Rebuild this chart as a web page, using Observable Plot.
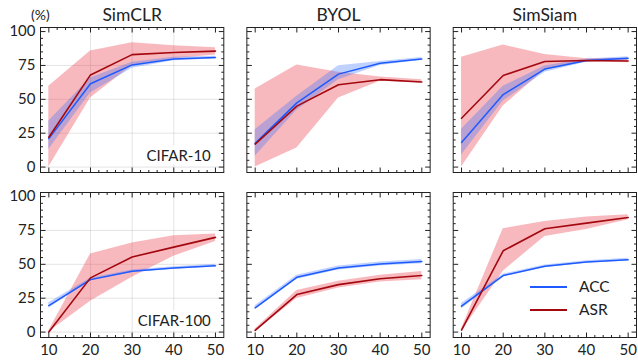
<!DOCTYPE html>
<html><head><meta charset="utf-8">
<script src="https://cdn.jsdelivr.net/npm/d3@7"></script>
<script src="https://cdn.jsdelivr.net/npm/@observablehq/plot@0.6"></script>
<style>
body{margin:0;background:#fff;}
#wrap{position:relative;width:638px;height:360px;font-family:Lato,sans-serif;color:#222;}
.ov{position:absolute;white-space:nowrap;line-height:1;}
.lg{position:absolute;height:0;border-top:2px solid;}
</style></head><body>
<div id="wrap"></div>
<script>
// ---- categories / ticks ----
const methods = ["SimCLR", "BYOL", "SimSiam"];
const datasets = ["CIFAR-10", "CIFAR-100"];
const xs = [10, 20, 30, 40, 50];
const xMajor = [10, 20, 30, 40, 50];
const xMinor = [12, 14, 16, 18, 22, 24, 26, 28, 32, 34, 36, 38, 42, 44, 46, 48];
const yMajor = [0, 25, 50, 75, 100];
const yMinor = [5, 10, 15, 20, 30, 35, 40, 45, 55, 60, 65, 70, 80, 85, 90, 95];
const xGrid = [20, 30, 40];
const yGrid = [0, 25, 50, 75];

// ---- SimCLR / CIFAR-10 ----
const simclrC10Acc   = [21, 61.5, 75.4, 79.8, 80.8];
const simclrC10AccLo = [13, 54.7, 73, 78.5, 79.8];
const simclrC10AccHi = [34, 65.7, 77.4, 81, 81.8];
const simclrC10Asr   = [22, 68, 83, 84.5, 85.6];
const simclrC10AsrLo = [0, 51, 75, 80, 82.7];
const simclrC10AsrHi = [59.6, 85.6, 91.7, 89.5, 88];
// ---- BYOL / CIFAR-10 ----
const byolC10Acc   = [17.5, 47.4, 68.6, 76.6, 79.8];
const byolC10AccLo = [8, 42, 64.5, 75, 78.8];
const byolC10AccHi = [27.5, 52.3, 74.7, 78, 80.8];
const byolC10Asr   = [17, 45, 60.8, 64.5, 62.8];
const byolC10AsrLo = [0, 14, 51, 63.3, 62];
const byolC10AsrHi = [57.7, 75.4, 70, 66.4, 64.5];
// ---- SimSiam / CIFAR-10 ----
const simsiamC10Acc   = [18.2, 53.5, 72.3, 78.6, 80.3];
const simsiamC10AccLo = [9, 48.7, 70, 77.3, 79];
const simsiamC10AccHi = [28, 59.6, 74.5, 79.8, 81.5];
const simsiamC10Asr   = [36, 67.6, 77.9, 78.6, 78.3];
const simsiamC10AsrLo = [0, 45, 71.8, 78, 77];
const simsiamC10AsrHi = [81, 90, 83, 80, 80.3];
// ---- SimCLR / CIFAR-100 ----
const simclrC100Acc   = [19.6, 38.7, 44.9, 47.3, 49];
const simclrC100AccLo = [17.6, 37.7, 43.9, 46.3, 48];
const simclrC100AccHi = [21.6, 39.7, 45.9, 48.3, 50];
const simclrC100Asr   = [0, 40, 55.4, 62.7, 69.9];
const simclrC100AsrLo = [0, 22.8, 40.4, 55.9, 66.9];
const simclrC100AsrHi = [1, 57.6, 65.7, 71, 72.3];
// ---- BYOL / CIFAR-100 ----
const byolC100Acc   = [17.9, 40.4, 47.3, 50.2, 52];
const byolC100AccLo = [16.4, 38.9, 45.8, 48.7, 50.5];
const byolC100AccHi = [19.4, 41.9, 48.8, 51.7, 53.5];
const byolC100Asr   = [1.2, 27.7, 35, 39.4, 41.7];
const byolC100AsrLo = [0.2, 24.7, 32.5, 36.9, 38.7];
const byolC100AsrHi = [2.2, 30.7, 37.5, 41.9, 44.7];
// ---- SimSiam / CIFAR-100 ----
const simsiamC100Acc   = [19.1, 41.7, 48.5, 51.7, 53.4];
const simsiamC100AccLo = [17.1, 40.7, 47.5, 50.7, 52.4];
const simsiamC100AccHi = [21.1, 42.7, 49.5, 52.7, 54.4];
const simsiamC100Asr   = [1.5, 60, 76.3, 80.4, 84.6];
const simsiamC100AsrLo = [0.5, 44.9, 70.6, 75.7, 82.8];
const simsiamC100AsrHi = [2.5, 76.3, 81.6, 85, 86.5];

const colors = {ACC: "#1e5aff", ASR: "#a3080f"};
const bandColors = {ACC: "#2a6bff", ASR: "#eb3c4b"};

const series = [
  ["SimCLR", "CIFAR-10", "ACC", simclrC10Acc, simclrC10AccLo, simclrC10AccHi],
  ["SimCLR", "CIFAR-10", "ASR", simclrC10Asr, simclrC10AsrLo, simclrC10AsrHi],
  ["BYOL", "CIFAR-10", "ACC", byolC10Acc, byolC10AccLo, byolC10AccHi],
  ["BYOL", "CIFAR-10", "ASR", byolC10Asr, byolC10AsrLo, byolC10AsrHi],
  ["SimSiam", "CIFAR-10", "ACC", simsiamC10Acc, simsiamC10AccLo, simsiamC10AccHi],
  ["SimSiam", "CIFAR-10", "ASR", simsiamC10Asr, simsiamC10AsrLo, simsiamC10AsrHi],
  ["SimCLR", "CIFAR-100", "ACC", simclrC100Acc, simclrC100AccLo, simclrC100AccHi],
  ["SimCLR", "CIFAR-100", "ASR", simclrC100Asr, simclrC100AsrLo, simclrC100AsrHi],
  ["BYOL", "CIFAR-100", "ACC", byolC100Acc, byolC100AccLo, byolC100AccHi],
  ["BYOL", "CIFAR-100", "ASR", byolC100Asr, byolC100AsrLo, byolC100AsrHi],
  ["SimSiam", "CIFAR-100", "ACC", simsiamC100Acc, simsiamC100AccLo, simsiamC100AccHi],
  ["SimSiam", "CIFAR-100", "ASR", simsiamC100Asr, simsiamC100AsrLo, simsiamC100AsrHi]
];
const rows = series.flatMap(([method, dataset, metric, m, lo, hi]) =>
  xs.map((x, i) => ({method, dataset, metric, x, y: m[i], lo: lo[i], hi: hi[i]})));
const acc = rows.filter(d => d.metric === "ACC");
const asr = rows.filter(d => d.metric === "ASR");

const xDomain = [8, 52];
const yDomain = [-4, 103];

const tickShape = {draw(ctx, l) { ctx.moveTo(0, 0); ctx.lineTo(0, -l); }};
const tk = {stroke: "#222", strokeWidth: 1, strokeLinecap: "butt", anchor: "start", shape: tickShape};
const tickMarks = [
  [xMajor, 5], [xMinor, 2.5]
].flatMap(([t, len]) => [
  Plot.vector(t, {...tk, x: d => d, y: yDomain[0], length: len, rotate: 0}),
  Plot.vector(t, {...tk, x: d => d, y: yDomain[1], length: len, rotate: 180})
]).concat([
  [yMajor, 5], [yMinor, 2.5]
].flatMap(([t, len]) => [
  Plot.vector(t, {...tk, y: d => d, x: xDomain[0], length: len, rotate: 90}),
  Plot.vector(t, {...tk, y: d => d, x: xDomain[1], length: len, rotate: -90})
]));

const chart = Plot.plot({
  width: 638,
  height: 360,
  marginLeft: 40,
  marginRight: 2,
  marginTop: 27,
  marginBottom: 23,
  style: {fontFamily: "Lato, sans-serif", fontSize: "14px", color: "#222", background: "white"},
  x: {domain: xDomain},
  y: {domain: yDomain},
  fx: {domain: methods, paddingInner: 0.1117, paddingOuter: 0, round: false},
  fy: {domain: datasets, paddingInner: 0.1212, paddingOuter: 0, round: false, axis: null},
  marks: [
    Plot.gridX(xGrid, {fx: () => "SimCLR", stroke: "#bbb", strokeOpacity: 0.4}),
    Plot.gridY(yGrid, {fx: () => "SimCLR", stroke: "#bbb", strokeOpacity: 0.4}),
    Plot.text(datasets, {fx: () => "SimCLR", fy: d => d, text: d => d, frameAnchor: "bottom-right",
      dx: -13, dy: -12, textAnchor: "end", lineAnchor: "bottom", fontSize: 15,
      fill: "#222", stroke: "white", strokeWidth: 9}),
    Plot.areaY(asr, {x: "x", y1: "lo", y2: "hi", fx: "method", fy: "dataset", fill: bandColors.ASR, fillOpacity: 0.36, curve: "linear"}),
    Plot.areaY(acc, {x: "x", y1: "lo", y2: "hi", fx: "method", fy: "dataset", fill: bandColors.ACC, fillOpacity: 0.3, curve: "linear"}),
    Plot.lineY(acc, {x: "x", y: "y", fx: "method", fy: "dataset", stroke: colors.ACC, strokeWidth: 1.5}),
    Plot.lineY(asr, {x: "x", y: "y", fx: "method", fy: "dataset", stroke: colors.ASR, strokeWidth: 1.6}),
    Plot.frame({stroke: "#222", strokeWidth: 1}),
    ...tickMarks,
    Plot.axisFx({anchor: "top", label: null, tickSize: 0, tickPadding: 7, fontSize: 17.5}),
    Plot.axisX({anchor: "bottom", ticks: xMajor, tickSize: 0, tickPadding: 7, label: null, fontSize: 15}),
    Plot.axisY({anchor: "left", ticks: yMajor, tickSize: 0, tickPadding: 5, label: null, fontSize: 15})
  ]
});

const wrap = document.getElementById("wrap");
wrap.appendChild(chart);

function overlay(html, css) {
  const d = document.createElement("div");
  d.className = "ov";
  d.innerHTML = html;
  Object.assign(d.style, css);
  wrap.appendChild(d);
  return d;
}
overlay("(%)", {left: "31px", top: "8px", fontSize: "14px"});
const legendItems = [["ACC", 286.5], ["ASR", 310]];
legendItems.forEach(([name, y]) => {
  const l = document.createElement("div");
  l.className = "lg";
  Object.assign(l.style, {left: "530px", width: "37px", top: (y - 1) + "px", borderColor: colors[name]});
  wrap.appendChild(l);
  overlay(name, {left: "579px", top: (y - 8) + "px", fontSize: "15.5px"});
});
</script>
</body></html>
